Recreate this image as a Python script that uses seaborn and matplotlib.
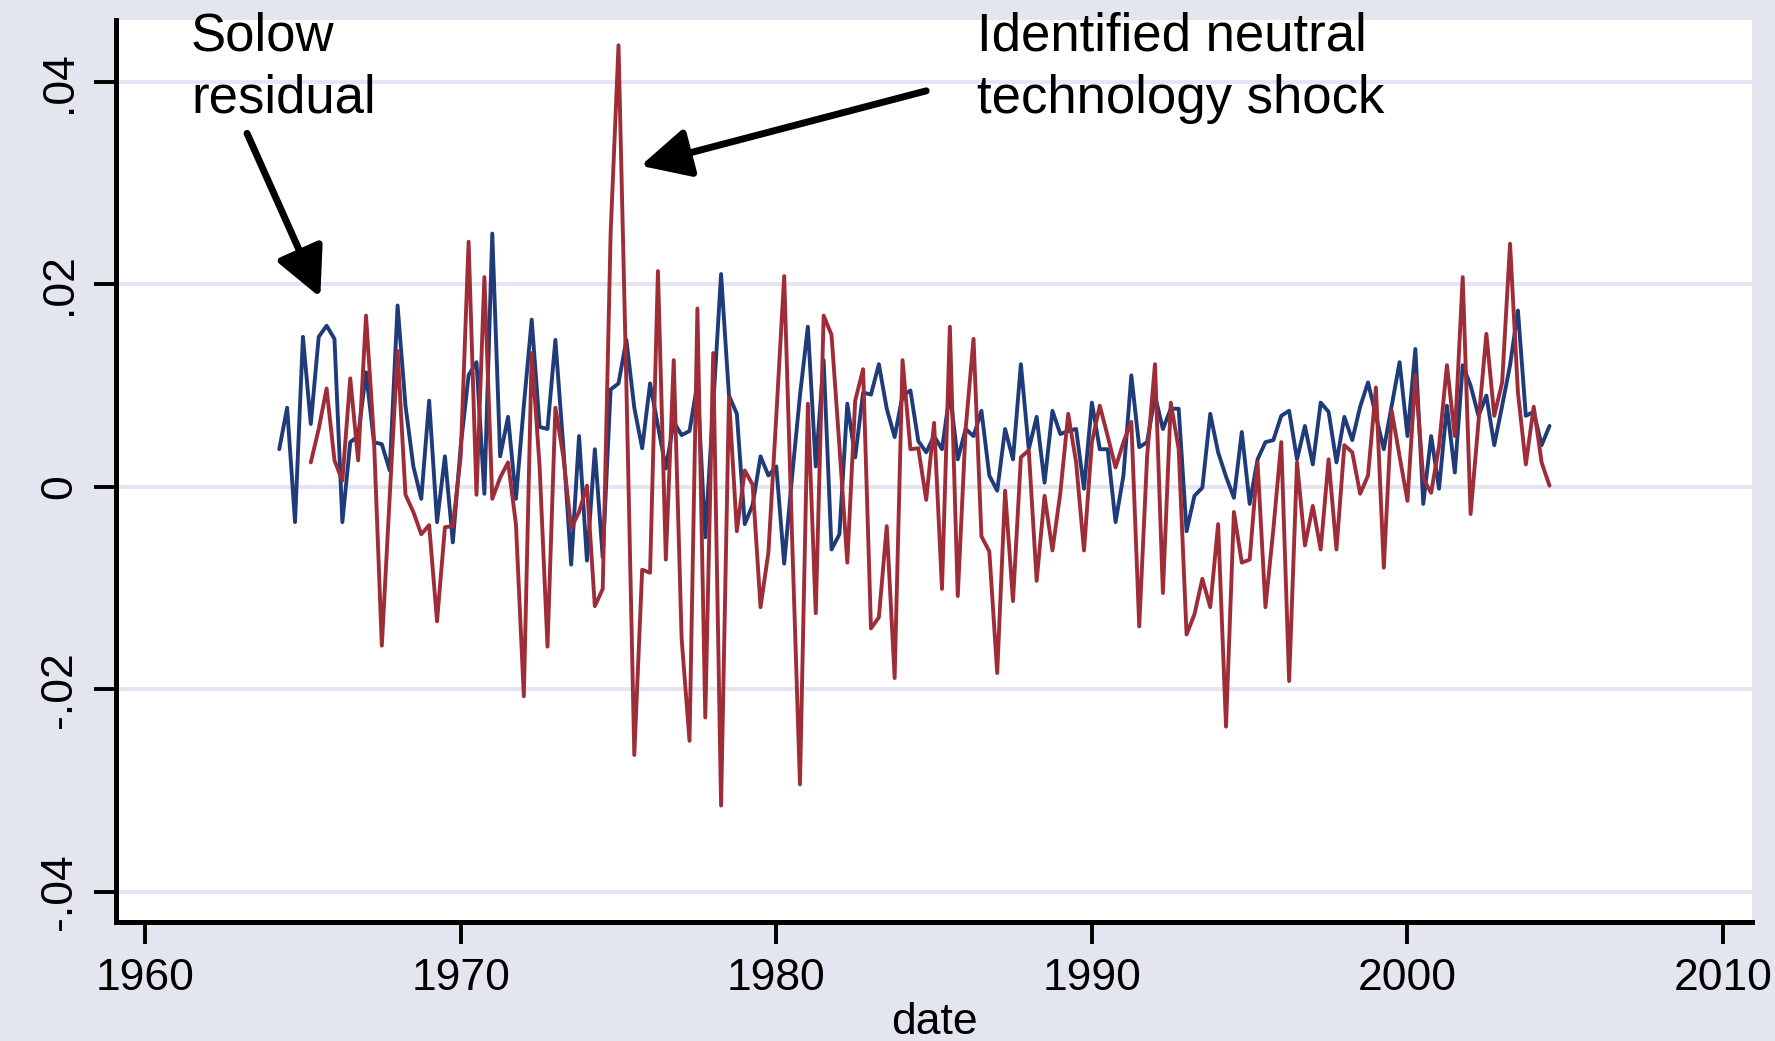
import matplotlib.pyplot as plt
import numpy as np
import pandas as pd
import seaborn as sns

# quarterly series, first observation 1964q2 (plotted as 1964.25)
first_date = 1964.25

solow_residual = [
    0.0037, 0.0078, -0.0035, 0.0148, 0.0062, 0.0148, 0.0159, 0.0146, -0.0035, 0.0044,
    0.0050, 0.0113, 0.0044, 0.0042, 0.0016, 0.0179, 0.0080, 0.0020, -0.0012, 0.0085,
    -0.0035, 0.0030, -0.0055, 0.0040, 0.0110, 0.0123, -0.0007, 0.0250, 0.0030, 0.0069,
    -0.0012, 0.0080, 0.0165, 0.0059, 0.0057, 0.0145, 0.0040, -0.0077, 0.0050, -0.0073,
    0.0037, -0.0070, 0.0096, 0.0102, 0.0145, 0.0078, 0.0038, 0.0102, 0.0060, 0.0018,
    0.0064, 0.0051, 0.0055, 0.0102, -0.0050, 0.0080, 0.0210, 0.0090, 0.0072, -0.0037,
    -0.0018, 0.0030, 0.0011, 0.0020, -0.0076, 0.0010, 0.0090, 0.0158, 0.0020, 0.0125,
    -0.0062, -0.0047, 0.0082, 0.0029, 0.0093, 0.0091, 0.0121, 0.0077, 0.0049, 0.0090,
    0.0095, 0.0045, 0.0034, 0.0050, 0.0037, 0.0093, 0.0027, 0.0057, 0.0050, 0.0075,
    0.0011, -0.0004, 0.0057, 0.0027, 0.0121, 0.0037, 0.0069, 0.0004, 0.0075, 0.0052,
    0.0055, 0.0057, -0.0002, 0.0083, 0.0037, 0.0037, -0.0035, 0.0011, 0.0110, 0.0039,
    0.0044, 0.0090, 0.0057, 0.0077, 0.0077, -0.0044, -0.0009, -0.0001, 0.0072, 0.0034,
    0.0010, -0.0011, 0.0054, -0.0017, 0.0027, 0.0044, 0.0046, 0.0070, 0.0075, 0.0027,
    0.0060, 0.0022, 0.0083, 0.0074, 0.0024, 0.0069, 0.0046, 0.0079, 0.0103, 0.0070,
    0.0037, 0.0080, 0.0123, 0.0050, 0.0136, -0.0017, 0.0050, -0.0002, 0.0080, 0.0014,
    0.0120, 0.0100, 0.0070, 0.0090, 0.0041, 0.0080, 0.0120, 0.0174, 0.0070, 0.0074,
    0.0041, 0.0060,
]

# identified neutral technology shock starts four quarters later (1965.25)
shock_lag = 4
neutral_shock = [
    0.0024, 0.0057, 0.0097, 0.0026, 0.0006, 0.0107, 0.0026, 0.0169, 0.0048, -0.0157,
    -0.0010, 0.0134, -0.0008, -0.0025, -0.0047, -0.0038, -0.0133, -0.0040, -0.0039, 0.0030,
    0.0242, -0.0008, 0.0207, -0.0012, 0.0009, 0.0024, -0.0037, -0.0207, 0.0132, 0.0020,
    -0.0158, 0.0078, 0.0030, -0.0041, -0.0025, 0.0001, -0.0118, -0.0101, 0.0250, 0.0436,
    0.0100, -0.0265, -0.0082, -0.0085, 0.0213, -0.0072, 0.0125, -0.0150, -0.0251, 0.0176,
    -0.0228, 0.0132, -0.0315, 0.0088, -0.0044, 0.0016, 0.0002, -0.0119, -0.0065, 0.0070,
    0.0208, -0.0050, -0.0294, 0.0082, -0.0125, 0.0169, 0.0150, 0.0040, -0.0075, 0.0085,
    0.0116, -0.0140, -0.0129, -0.0039, -0.0189, 0.0125, 0.0037, 0.0038, -0.0013, 0.0063,
    -0.0101, 0.0158, -0.0108, 0.0057, 0.0146, -0.0049, -0.0064, -0.0184, -0.0004, -0.0113,
    0.0029, 0.0036, -0.0093, -0.0009, -0.0063, -0.0006, 0.0072, 0.0024, -0.0063, 0.0044,
    0.0080, 0.0050, 0.0019, 0.0044, 0.0064, -0.0138, 0.0030, 0.0121, -0.0105, 0.0083,
    0.0037, -0.0146, -0.0126, -0.0091, -0.0119, -0.0037, -0.0237, -0.0025, -0.0075, -0.0072,
    0.0024, -0.0119, -0.0042, 0.0044, -0.0192, 0.0024, -0.0058, -0.0019, -0.0062, 0.0027,
    -0.0062, 0.0041, 0.0034, -0.0007, 0.0011, 0.0098, -0.0080, 0.0075, 0.0030, -0.0014,
    0.0110, 0.0008, -0.0006, 0.0040, 0.0120, 0.0050, 0.0207, -0.0027, 0.0064, 0.0151,
    0.0070, 0.0103, 0.0240, 0.0093, 0.0022, 0.0079, 0.0024, 0.0001,
]

x_ticks = [1960, 1970, 1980, 1990, 2000, 2010]
y_ticks = [-0.04, -0.02, 0, 0.02, 0.04]
y_tick_labels = ["-.04", "-.02", "0", ".02", ".04"]

dates = first_date + 0.25 * np.arange(len(solow_residual))
df = pd.DataFrame({"date": dates, "solow": solow_residual})
df["shock"] = [np.nan] * shock_lag + neutral_shock

bg = "#E4E6EF"
navy = "#1F3B7A"
maroon = "#9E2D38"

sns.set_style("white")
plt.rcParams["font.family"] = ["Liberation Sans", "DejaVu Sans"]
plt.rcParams["text.color"] = "black"
plt.rcParams["axes.labelcolor"] = "black"
plt.rcParams["xtick.color"] = "black"
plt.rcParams["ytick.color"] = "black"

fig = plt.figure(figsize=(17.75, 10.41), dpi=100, facecolor=bg)
ax = fig.add_axes([0.0654, 0.1143, 0.9217, 0.8665])
ax.set_facecolor("white")

sns.lineplot(data=df, x="date", y="solow", color=navy, lw=2.8, errorbar=None, ax=ax)
sns.lineplot(data=df, x="date", y="shock", color=maroon, lw=2.8, errorbar=None, ax=ax)

ax.set_xlim(1959.08, 2010.92)
ax.set_ylim(-0.0430, 0.0461)
ax.set_xticks(x_ticks)
ax.set_xticklabels([str(t) for t in x_ticks], fontsize=32)
ax.set_yticks(y_ticks)
ax.set_yticklabels(y_tick_labels, rotation=90, va="center", fontsize=32)
ax.yaxis.grid(True, color="#E4E4F4", lw=2.8)
ax.xaxis.grid(False)
ax.set_axisbelow(True)

for side in ["top", "right"]:
    ax.spines[side].set_visible(False)
for side in ["left", "bottom"]:
    ax.spines[side].set_linewidth(3.6)
    ax.spines[side].set_color("black")
ax.tick_params(axis="both", length=16, width=2.8, color="black", pad=10,
               left=True, bottom=True)

ax.set_xlabel("date", fontsize=32, labelpad=2)
ax.set_ylabel("")

# annotations
ax.text(1961.45, 0.0469, "Solow\nresidual", fontsize=38, va="top", ha="left",
        linespacing=1.3, color="black")
ax.text(1986.35, 0.0469, "Identified neutral\ntechnology shock", fontsize=38,
        va="top", ha="left", linespacing=1.3, color="black")

arrow = dict(arrowstyle="-|>,head_length=1.0,head_width=0.5", lw=5, color="black",
             shrinkA=0, shrinkB=0, mutation_scale=30)
ax.annotate("", xy=(1965.55, 0.0187), xytext=(1963.23, 0.0349), arrowprops=arrow)
ax.annotate("", xy=(1975.70, 0.0317), xytext=(1984.75, 0.0391), arrowprops=arrow)

fig.savefig("out.png", dpi=100, facecolor=bg)
